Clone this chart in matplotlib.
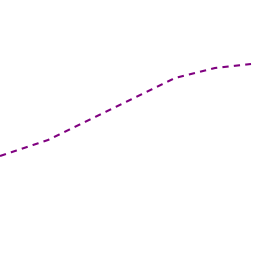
import matplotlib
matplotlib.use("Agg")
import matplotlib.pyplot as plt

x_vals = [0, 48, 175, 215, 251]
y_vals = [100, 116, 178, 188, 192]

fig = plt.figure(figsize=(2.56, 2.56), dpi=100)
ax = fig.add_axes([0, 0, 1, 1])
ax.plot(x_vals, y_vals, color="#800080", linewidth=1.5, linestyle=(0, (3, 2.5)))
ax.set_xlim(0, 256)
ax.set_ylim(0, 256)
ax.axis("off")
fig.savefig("out.png", dpi=100, facecolor="white")
